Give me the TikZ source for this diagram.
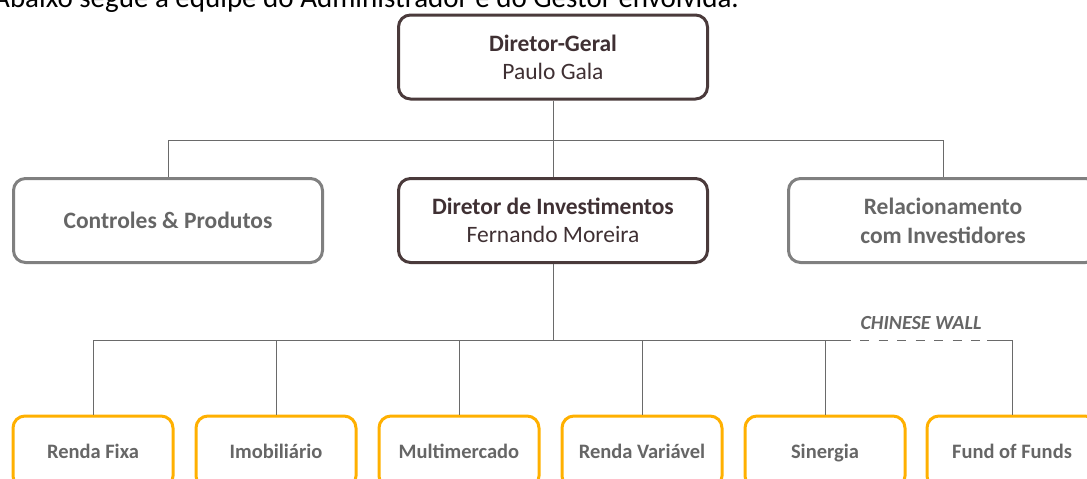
\documentclass[tikz,border=0pt]{standalone}
\usepackage{fontspec}
\setmainfont{Carlito}
\usetikzlibrary{positioning}
\definecolor{chefe}{HTML}{4A3A3B}
\definecolor{chefetxt}{HTML}{3F3033}
\definecolor{cinza}{HTML}{808080}
\definecolor{cinzatxt}{HTML}{666666}
\definecolor{ouro}{HTML}{FFB000}
\definecolor{linha}{HTML}{6A6A6A}

\begin{document}
\begin{tikzpicture}[x=1pt, y=-1pt,
every node/.style = {align=center, inner sep=0pt},
       dbox/.style = {rectangle, rounded corners=12pt, draw=chefe, line width=3pt,
                      minimum width=309pt, minimum height=84pt, text=chefetxt,
                      font=\fontsize{23.5}{28}\selectfont},
       gbox/.style = {dbox, draw=cinza, text=cinzatxt, font=\bfseries\fontsize{23.5}{29}\selectfont},
       obox/.style = {rectangle, rounded corners=12pt, draw=ouro, line width=3pt,
                      minimum width=160pt, minimum height=72pt, text=cinzatxt,
                      text height=13pt, text depth=1pt,
                      font=\bfseries\fontsize{20.5}{24}\selectfont},
        elo/.style = {draw=linha, line width=1pt},
       muro/.style = {elo, dash pattern=on 9pt off 9.5pt, dash phase=9pt}
                        ]
\useasboundingbox (0,0) rectangle (1087,479);
\clip (0,0) rectangle (1087,479);
% intro line, cut at the top
\node (intro)[anchor=base east, font=\fontsize{29}{34}\selectfont] at (739,7)
     {Abaixo segue a equipe do Administrador e do Gestor envolvida.};
% directors
\node (geral) [dbox] at (553,57) {\textbf{Diretor-Geral}\\Paulo Gala};
\node (invest)[dbox] at (553,220.5) {\textbf{Diretor de Investimentos}\\Fernando Moreira};
\node (contr) [gbox] at (168,220.5) {Controles \& Produtos};
\node (rel)   [gbox] at (943,220.5) {Relacionamento\\com Investidores};
% teams
\node (rfixa) [obox] at (93,452)   {Renda Fixa};
\node (imob)  [obox] at (276,452)  {Imobiliário};
\node (multi) [obox] at (459,452)  {Multimercado};
\node (rvar)  [obox] at (642,452)  {Renda Variável};
\node (siner) [obox] at (825,452)  {Sinergia};
\node (fof)   [obox, minimum width=170pt] at (1012,452) {Fund of Funds};
% first level
\draw[elo] (geral.south) -- ++(0,40) coordinate (barra1);
\draw[elo] (contr.north) |- (barra1) -| (rel.north);
\draw[elo] (barra1) -- (invest.north);
% second level
\draw[elo] (invest.south) -- ++(0,76) coordinate (barra2);
\draw[elo] (rfixa.north) |- (barra2);
\coordinate (wallA) at (850.5,340);
\coordinate (wallB) at (987,340);
\draw[elo] (barra2) -| (siner.north);
\draw[elo] (siner.north |- barra2) -- (wallA);
\draw[muro] (wallA) -- (wallB);
\draw[elo] (wallB) -| (fof.north);
\foreach \eq in {imob, multi, rvar}
  \draw[elo] (\eq.north) -- (\eq.north |- barra2);
\node (wall)[font=\bfseries\itshape\fontsize{20}{24}\selectfont, text=cinzatxt] at (921,323) {CHINESE WALL};
\end{tikzpicture}
\end{document}
